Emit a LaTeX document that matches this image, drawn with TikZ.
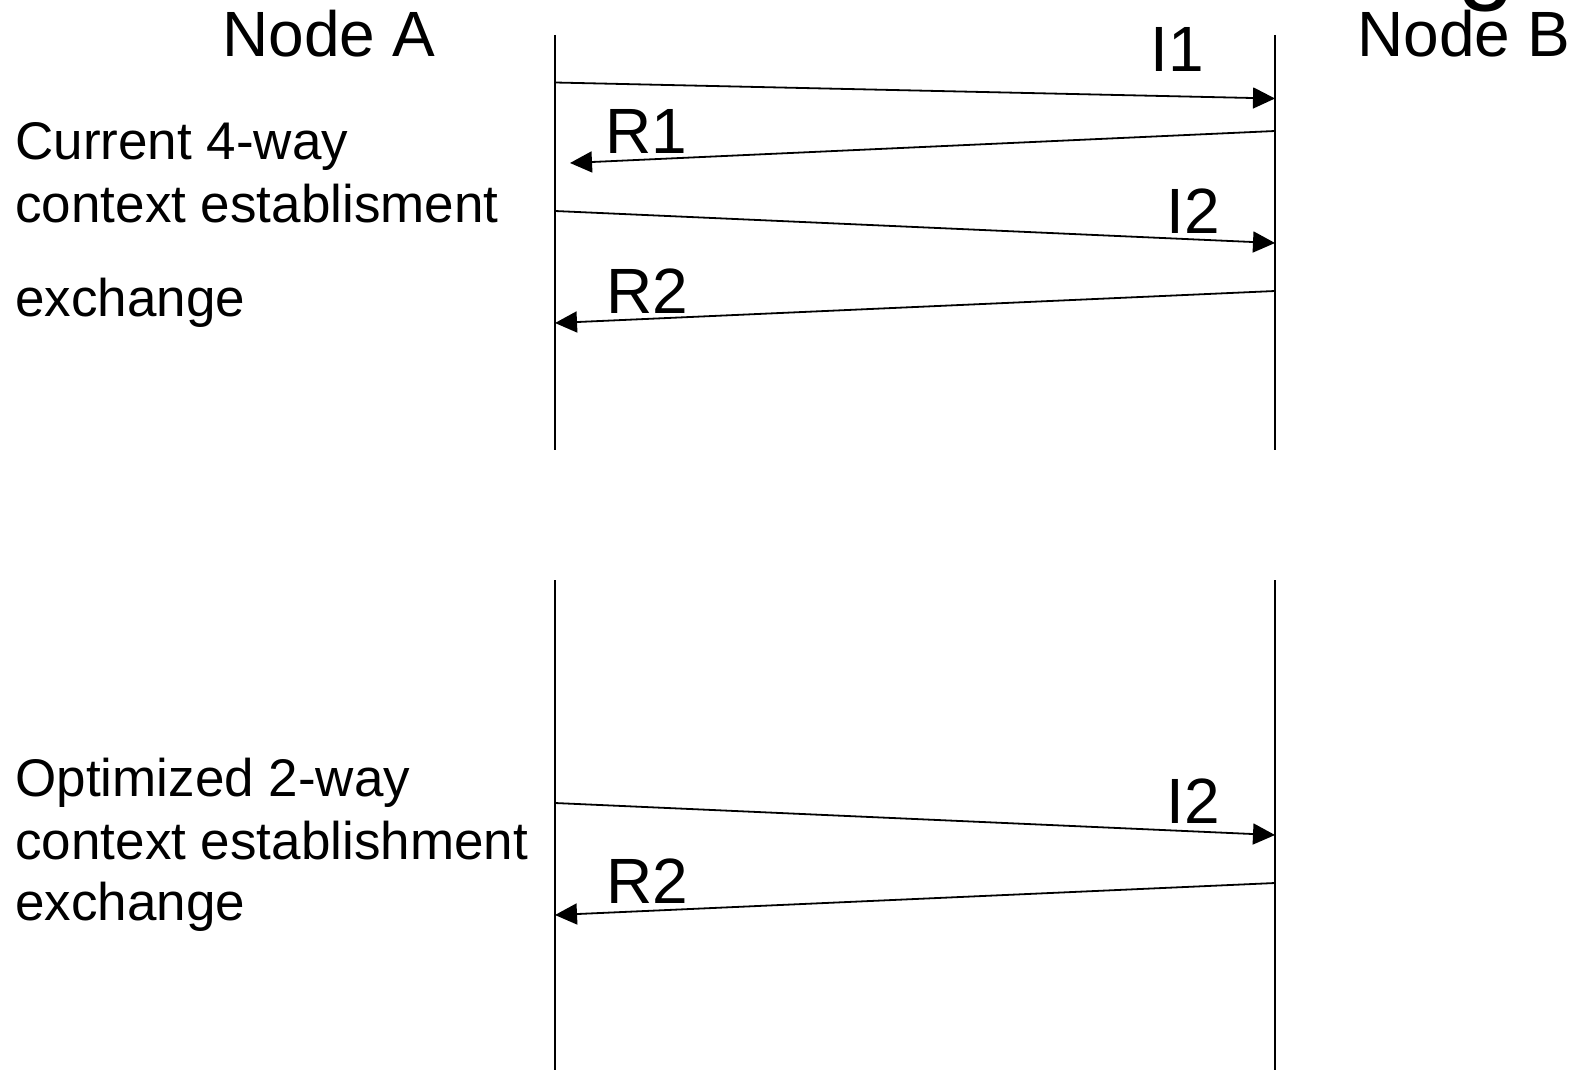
\documentclass[tikz,border=0pt]{standalone}
\usepackage{fontspec}
\setmainfont{Liberation Sans}
\usetikzlibrary{arrows.meta}
\tikzset{> = {Triangle[length=11pt,width=10.5pt]}}
\tikzset{life/.style={line width=0.9pt},
	msg/.style={->, line width=0.9pt},
	big/.style={font=\fontsize{32}{38}\selectfont, inner sep=0pt, anchor=base},
	note/.style={font=\fontsize{26.5}{31}\selectfont, inner sep=0pt, anchor=base west}}

\begin{document}
\begin{tikzpicture}[x=0.5pt,y=-0.5pt]
		\clip (0,0) rectangle (1577,1070);
		\useasboundingbox (0,0) rectangle (1577,1070);
		% partly hidden heading letter
		\node[font=\fontsize{52}{60}\selectfont, inner sep=0pt, anchor=base] (hd) at (1486,-9) {g};
		\node[big] (na) at (329,57) {Node A};
		\node[big] (nb) at (1464,57) {Node B};
		% lifelines
		\coordinate (a1) at (555,35);  \coordinate (a2) at (555,450);
		\coordinate (b1) at (1275,35); \coordinate (b2) at (1275,450);
		\coordinate (a3) at (555,580); \coordinate (a4) at (555,1070);
		\coordinate (b3) at (1275,580);\coordinate (b4) at (1275,1070);
		\draw[life] (a1)--(a2) (b1)--(b2) (a3)--(a4) (b3)--(b4);
		% 4-way exchange
		\coordinate (i1s) at (555,82.5);  \coordinate (i1e) at (1275,98.5);
		\coordinate (r1s) at (1275,131);  \coordinate (r1e) at (570,163);
		\coordinate (i2s) at (555,211);   \coordinate (i2e) at (1275,243);
		\coordinate (r2s) at (1275,291);  \coordinate (r2e) at (555,323);
		\draw[msg] (i1s)--(i1e);
		\draw[msg] (r1s)--(r1e);
		\draw[msg] (i2s)--(i2e);
		\draw[msg] (r2s)--(r2e);
		\node[big] (li1) at (1177,72) {I1};
		\node[big] (lr1) at (646,153) {R1};
		\node[big] (li2) at (1193,233) {I2};
		\node[big] (lr2) at (647,313) {R2};
		\node[note] (c1) at (15,159) {Current 4-way};
		\node[note] (c2) at (15,222) {context establisment};
		\node[note] (c3) at (15,316) {exchange};
		% 2-way exchange
		\coordinate (j2s) at (555,803);   \coordinate (j2e) at (1275,835);
		\coordinate (s2s) at (1275,883);  \coordinate (s2e) at (555,915);
		\draw[msg] (j2s)--(j2e);
		\draw[msg] (s2s)--(s2e);
		\node[big] (lj2) at (1193,823) {I2};
		\node[big] (ls2) at (647,903) {R2};
		\node[note] (o1) at (15,796) {Optimized 2-way};
		\node[note] (o2) at (15,859) {context establishment};
		\node[note] (o3) at (15,920) {exchange};
		\end{tikzpicture}
\end{document}
